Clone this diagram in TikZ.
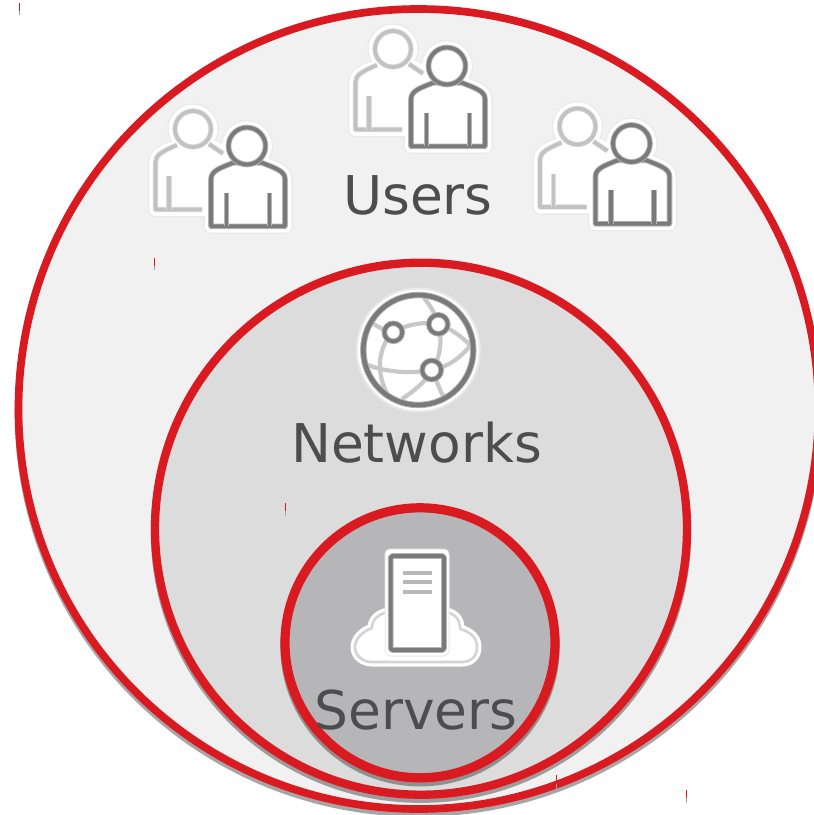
\documentclass[tikz,border=0pt]{standalone}
\usepackage{fontspec}
\setmainfont{DejaVu Sans}
\definecolor{ringred}{HTML}{DA1A21}
\definecolor{fillouter}{HTML}{F1F1F1}
\definecolor{fillmid}{HTML}{DCDCDC}
\definecolor{fillinner}{HTML}{B6B6B8}
\definecolor{txtgrey}{HTML}{4D4D4D}
\definecolor{icondark}{HTML}{7A7A7A}
\definecolor{iconlight}{HTML}{C2C2C2}
\definecolor{haloedge}{HTML}{E9E9E9}
\tikzset{
  ringshadow/.style={fill=black,fill opacity=.35,draw=none},
  ring/.style={draw=ringred},
  lbl/.style={text=txtgrey,font=\fontsize{53.4}{60}\selectfont,inner sep=0pt,anchor=base},
  darkline/.style={preaction={draw=icondark!55!white,line width=5.6pt,line join=round},draw=icondark,line width=3.8pt,line join=round},
  lightline/.style={preaction={draw=iconlight!55!white,line width=5.2pt,line join=round},draw=iconlight,line width=3.6pt,line join=round},
  tick/.style={draw=ringred,line width=1pt},
  tickend/.style={draw=black!35,line width=1pt},
}
\newcommand{\usersicon}[2]{%
\begin{scope}[shift={(#1,#2)}]
  \def\lightbody{(-91.5,63.5) -- (-91.5,16) .. controls (-91.5,9) and (-84,5) .. (-72,1) -- (-38,-2) -- (-22,8) -- (-22,63.5) -- cycle}
  \def\darkbody{(-36,80.3) -- (-36,33) .. controls (-36,25) and (-27,22) .. (-13.7,16.7) -- (14.7,16.7) .. controls (28,22) and (38,25) .. (38,33) -- (38,80.3) -- cycle}
  \foreach \w/\c in {15/haloedge,12.5/white}{
    \fill[\c,draw=\c,line width=\w pt,line join=round] \lightbody;
    \fill[\c,draw=\c,line width=\w pt] (-54,-17) circle (18);
    \fill[\c,draw=\c,line width=\w pt,line join=round] \darkbody;
    \fill[\c,draw=\c,line width=\w pt] (0,0) circle (18.5);
  }
  \draw[lightline] (-45,63.5) -- (-91.5,63.5) -- (-91.5,16) .. controls (-91.5,9) and (-84,5) .. (-70,-1);
  \draw[lightline] (-38,-2) -- (-24,7.5);
  \draw[lightline] (-78,30) -- (-78,63.5);
  \draw[lightline] (-54,-17) circle (18);
  \draw[darkline] \darkbody;
  \fill[white] (0,0) circle (18.5);
  \draw[darkline] (0,0) circle (18.5);
  \draw[darkline] (-20.5,46.5) -- (-20.5,80.3) (22.5,46.5) -- (22.5,80.3);
\end{scope}}
\begin{document}
\begin{tikzpicture}[x=1pt,y=-1pt]
\useasboundingbox (0,0) rectangle (814,815);
\clip (0,0) rectangle (814,815);
% rings
\fill[ringshadow] (418.5,413) circle (403.8);
\draw[ring,line width=7.7pt,fill=fillouter] (418.5,409) circle (400);
\fill[ringshadow] (421,532.7) circle (270.2);
\draw[ring,line width=8.3pt,fill=fillmid] (421,528.7) circle (266);
\fill[ringshadow] (420,646.8) circle (139.6);
\draw[ring,line width=9.2pt,fill=fillinner] (420,642.8) circle (135);
% stray marks
\foreach \x/\a/\b/\c in {19/3/11/15,154.5/258/266/270,285/503/511/516,556.5/775/784/789,686.5/790/798/803}{
  \draw[tick] (\x,\a) -- (\x,\b);
  \draw[tickend] (\x,\b) -- (\x,\c);
}
% users
\usersicon{247}{146}
\usersicon{447}{66}
\usersicon{631.5}{143.5}
% network globe
\fill[haloedge] (418.3,350) circle (62.5);
\fill[white] (418.3,350) circle (60.5);
\begin{scope}
  \clip (418.3,350) circle (55);
  \draw[draw=iconlight!90!white,line width=4.2pt]
    (372,323) .. controls (380,328) and (387,332) .. (393,332)
    .. controls (410,323) and (425,322) .. (438,324)
    .. controls (448,327) and (460,335) .. (470,345)
    (368,365) .. controls (385,372) and (410,374) .. (432,370)
    .. controls (448,367) and (460,358) .. (470,346)
    (424,298) .. controls (430,305) and (436,315) .. (438,324)
    .. controls (443,340) and (440,358) .. (432,370)
    .. controls (436,380) and (440,390) .. (444,398)
    (393,332) .. controls (380,345) and (372,372) .. (392,402)
    (402,399) .. controls (412,392) and (424,384) .. (432,370);
\end{scope}
\draw[darkline,line width=4.6pt,preaction={draw=icondark!55!white,line width=6.4pt}] (418.3,350) circle (55);
\foreach \nx/\ny/\nr in {393.3/332.3/9,438.3/324.3/9.5,431.7/370/9.5}{
  \fill[white] (\nx,\ny) circle (\nr);
  \draw[darkline] (\nx,\ny) circle (\nr);
}
% cloud server
\def\cloudpath{(388,612) .. controls (378,614) and (372,620) .. (372,628) .. controls (361,632) and (355,640) .. (355,647) .. controls (355,656) and (363,662) .. (372,662) -- (462,662) .. controls (471,662) and (477,656) .. (477,647) .. controls (477,638) and (471,632) .. (460,629) .. controls (460,620) and (456,614) .. (446,612) -- cycle}
\begin{scope}
  \clip (340,540) rectangle (495,670);
  \draw[white,line width=9pt,line join=round] \cloudpath;
\end{scope}
\draw[iconlight!70!white,line width=2.6pt,line join=round,fill=white] \cloudpath;
\fill[white,rounded corners=5pt] (385,549) rectangle (449,656);
\draw[haloedge,line width=1pt,rounded corners=5pt] (385,549) rectangle (449,656);
\fill[white] (390.7,556) rectangle (444,650);
\draw[darkline,rounded corners=1.5pt] (390.7,556) rectangle (444,650);
\draw[draw=iconlight!95!black,line width=3.6pt] (403,573) -- (432,573) (403,582) -- (432,582) (403,592) -- (432,592);
% labels
\node[lbl] (users) at (418,214) {Users};
\node[lbl] (networks) at (416.5,462) {Networks};
\node[lbl] (servers) at (416,729) {Servers};
\end{tikzpicture}
\end{document}
